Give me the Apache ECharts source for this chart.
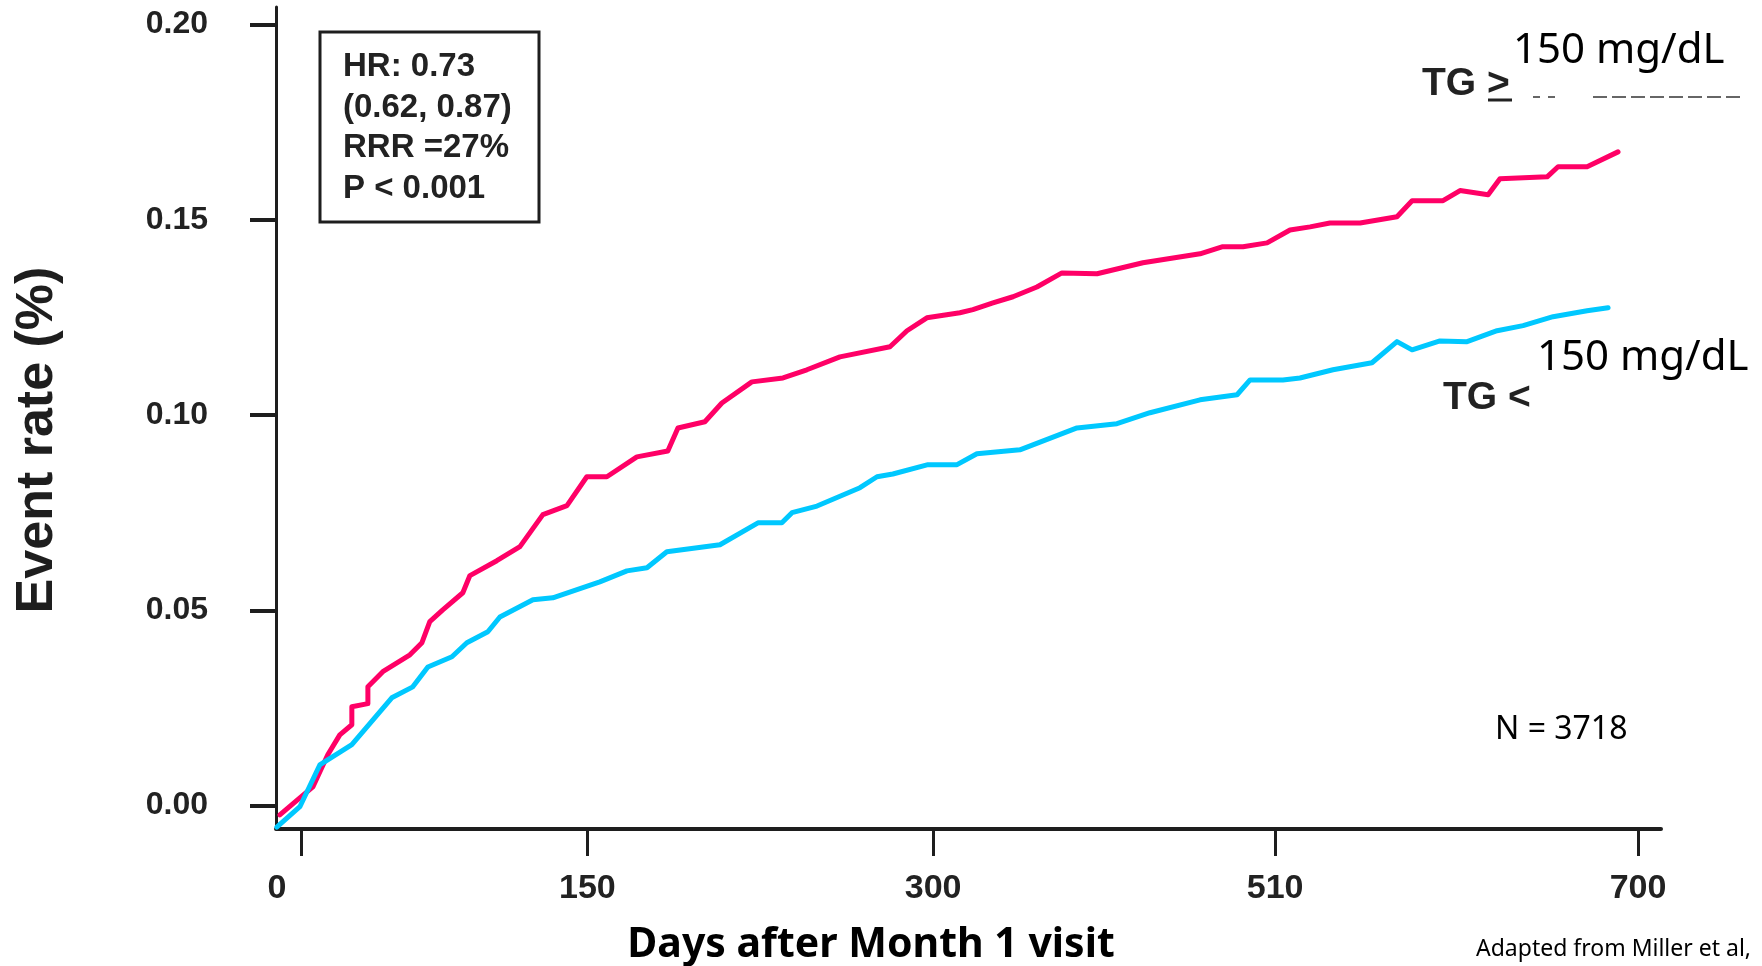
<!DOCTYPE html>
<html>
<head>
<meta charset="utf-8">
<title>Event rate by triglyceride level</title>
<script src="https://cdn.jsdelivr.net/npm/echarts@6/dist/echarts.min.js"></script>
<style>
  html, body { margin: 0; padding: 0; background: #ffffff; }
  #chart { width: 1762px; height: 966px; }
</style>
</head>
<body>
<div id="chart"></div>
<script>
// Cumulative event rate, TG >= 150 mg/dL group
const highTgDays = [-11.0, -1.6, 6.3, 14.1, 20.4, 26.7, 26.7, 35.1, 35.1, 42.9, 57.1, 63.4, 67.5, 74.3, 84.8, 88.5,
  102.6, 114.7, 126.7, 139.3, 149.7, 160.2, 175.9, 192.1, 197.4, 211.5, 220.4, 236.1, 252.4, 264.9, 282.2,
  308.4, 317.3, 327.7, 345.0, 351.8, 362.3, 372.8, 385.3, 398.4, 416.8, 440.8, 470.7, 482.2, 493.2, 505.8,
  517.8, 528.3, 538.7, 554.5, 573.8, 581.7, 597.9, 606.8, 621.5, 627.7, 652.4, 658.1, 673.3, 689.5];
const highTgRate = [-0.0024, 0.0015, 0.0048, 0.0130, 0.0181, 0.0207, 0.0253, 0.0261, 0.0304, 0.0343, 0.0386, 0.0417,
  0.0471, 0.0501, 0.0545, 0.0589, 0.0627, 0.0663, 0.0745, 0.0768, 0.0842, 0.0842, 0.0893, 0.0908, 0.0967, 0.0983,
  0.1031, 0.1085, 0.1095, 0.1116, 0.1149, 0.1175, 0.1216, 0.1249, 0.1262, 0.1270, 0.1287, 0.1303, 0.1328, 0.1364,
  0.1362, 0.1390, 0.1413, 0.1431, 0.1431, 0.1441, 0.1474, 0.1482, 0.1492, 0.1492, 0.1508, 0.1549, 0.1549, 0.1575,
  0.1564, 0.1605, 0.1610, 0.1636, 0.1636, 0.1674];

// Cumulative event rate, TG < 150 mg/dL group
const lowTgDays = [-12.6, -0.5, 9.9, 26.7, 47.6, 58.6, 66.5, 79.1, 86.9, 97.9, 104.2, 121.5, 131.9, 156.5, 170.7,
  181.2, 191.6, 219.4, 239.3, 251.8, 257.1, 270.2, 292.7, 301.6, 309.9, 328.3, 343.5, 353.9, 376.4, 406.3, 427.2,
  444.5, 470.7, 490.1, 496.9, 514.1, 523.0, 540.3, 560.7, 573.8, 581.7, 596.3, 610.5, 626.2, 639.8, 655.5, 673.3, 684.3];
const lowTgRate = [-0.0055, -0.0003, 0.0104, 0.0156, 0.0276, 0.0304, 0.0355, 0.0381, 0.0417, 0.0445, 0.0483, 0.0527,
  0.0532, 0.0573, 0.0601, 0.0609, 0.0650, 0.0668, 0.0724, 0.0724, 0.0750, 0.0767, 0.0814, 0.0842, 0.0849, 0.0873,
  0.0873, 0.0901, 0.0911, 0.0967, 0.0978, 0.1006, 0.1039, 0.1052, 0.1090, 0.1090, 0.1095, 0.1116, 0.1134, 0.1188,
  0.1167, 0.1190, 0.1188, 0.1216, 0.1229, 0.1252, 0.1267, 0.1275];

// Axis ticks: where each x tick sits, and the text printed under it
const xTickPositions = [0, 150, 331, 510, 700];
const xTickLabels = ['0', '150', '300', '510', '700'];
const yTickValues = [0, 0.05, 0.10, 0.15, 0.20];

// Annotation texts
const statLines = ['HR: 0.73', '(0.62, 0.87)', 'RRR =27%', 'P < 0.001'];
const highLabel = 'TG >';
const lowLabel = 'TG <';
const thresholdText = '150 mg/dL';
const sampleText = 'N = 3718';
const sourceText = 'Adapted from Miller et al,';
const xTitle = 'Days after Month 1 visit';
const yTitle = 'Event rate (%)';

const ARIAL = "'Liberation Sans', Arial, Helvetica, sans-serif";
const SANS = "'Noto Sans', 'Open Sans', sans-serif";
const INK = '#1e1e1e';

const zip = (xs, ys) => xs.map((x, i) => [x, ys[i]]);

const chart = echarts.init(document.getElementById('chart'), null, { renderer: 'canvas' });

chart.setOption({
  animation: false,
  backgroundColor: '#ffffff',
  grid: { left: 276, right: 101, top: 7, bottom: 137, containLabel: false, outerBoundsMode: 'none' },
  xAxis: {
    type: 'value',
    min: -13,
    max: 712,
    axisLine: { show: true, onZero: false, lineStyle: { color: INK, width: 4 } },
    axisTick: { show: true, customValues: xTickPositions, length: 27, lineStyle: { color: INK, width: 3 } },
    axisLabel: {
      customValues: xTickPositions,
      margin: 43,
      fontFamily: ARIAL,
      fontSize: 34,
      fontWeight: 'bold',
      color: '#222222',
      formatter: (v) => {
        const i = xTickPositions.indexOf(v);
        const t = i >= 0 ? xTickLabels[i] : '';
        return v === 0 ? '{z|' + t + '}' : t;
      },
      rich: {
        z: { fontFamily: ARIAL, fontSize: 34, fontWeight: 'bold', color: '#222222', padding: [0, 48, 0, 0] }
      }
    },
    splitLine: { show: false }
  },
  yAxis: {
    type: 'value',
    min: -0.006,
    max: 0.2045,
    axisLine: { show: true, onZero: false, lineStyle: { color: INK, width: 3 } },
    axisTick: { show: true, customValues: yTickValues, length: 26, lineStyle: { color: INK, width: 4 } },
    axisLabel: {
      customValues: yTickValues,
      margin: 68,
      fontFamily: ARIAL,
      fontSize: 32,
      fontWeight: 'bold',
      color: '#222222',
      formatter: (v) => v.toFixed(2)
    },
    splitLine: { show: false }
  },
  series: [
    {
      name: highLabel + ' ' + thresholdText,
      type: 'line',
      data: zip(highTgDays, highTgRate),
      showSymbol: false,
      symbol: 'none',
      lineStyle: { color: '#ff0066', width: 5, join: 'round', cap: 'round' },
      z: 2
    },
    {
      name: lowLabel + ' ' + thresholdText,
      type: 'line',
      data: zip(lowTgDays, lowTgRate),
      showSymbol: false,
      symbol: 'none',
      lineStyle: { color: '#00c8ff', width: 5, join: 'round', cap: 'round' },
      z: 3
    }
  ],
  graphic: [
    // statistics box
    {
      type: 'rect', z: 10,
      shape: { x: 320, y: 32, width: 219, height: 190 },
      style: { fill: 'none', stroke: INK, lineWidth: 3 }
    },
    {
      type: 'text', z: 11, x: 343, y: 47,
      style: {
        text: statLines.join('\n'), fill: '#222222',
        font: 'bold 33px ' + ARIAL, lineHeight: 40.5,
        align: 'left', verticalAlign: 'top'
      }
    },
    // group label, high TG
    {
      type: 'text', z: 11, x: 1422, y: 84,
      style: { text: highLabel, fill: '#222222', font: 'bold 39px ' + ARIAL, align: 'left', verticalAlign: 'middle' }
    },
    {
      type: 'line', z: 11,
      shape: { x1: 1488, y1: 100, x2: 1512, y2: 100 },
      style: { stroke: '#222222', lineWidth: 3 }
    },
    // remains of an underline peeking out below the label patch
    {
      type: 'line', z: 10,
      shape: { x1: 1533, y1: 97, x2: 1557, y2: 97 },
      style: { stroke: '#666666', lineWidth: 2, lineDash: [7, 8] }
    },
    {
      type: 'line', z: 10,
      shape: { x1: 1593, y1: 97, x2: 1744, y2: 97 },
      style: { stroke: '#666666', lineWidth: 2, lineDash: [14, 5] }
    },
    {
      type: 'rect', z: 12,
      shape: { x: 1513, y: 0, width: 232, height: 96 },
      style: { fill: '#ffffff' }
    },
    {
      type: 'text', z: 13, x: 1513, y: 51,
      style: { text: thresholdText, fill: '#000000', font: '42px ' + SANS, align: 'left', verticalAlign: 'middle' }
    },
    // group label, low TG
    {
      type: 'text', z: 11, x: 1443, y: 398,
      style: { text: lowLabel, fill: '#222222', font: 'bold 39px ' + ARIAL, align: 'left', verticalAlign: 'middle' }
    },
    {
      type: 'rect', z: 12,
      shape: { x: 1530, y: 326, width: 225, height: 62 },
      style: { fill: '#ffffff' }
    },
    {
      type: 'text', z: 13, x: 1537, y: 358,
      style: { text: thresholdText, fill: '#000000', font: '42px ' + SANS, align: 'left', verticalAlign: 'middle' }
    },
    // sample size and source
    {
      type: 'text', z: 11, x: 1495, y: 730,
      style: { text: sampleText, fill: '#000000', font: '32px ' + SANS, align: 'left', verticalAlign: 'middle' }
    },
    {
      type: 'text', z: 11, x: 1476, y: 949,
      style: { text: sourceText, fill: '#000000', font: '23px ' + SANS, align: 'left', verticalAlign: 'middle' }
    },
    // axis titles
    {
      type: 'text', z: 11, x: 871, y: 945,
      style: { text: xTitle, fill: '#000000', font: 'bold 41px ' + SANS, align: 'center', verticalAlign: 'middle' }
    },
    {
      type: 'text', z: 11, x: 38, y: 440, rotation: Math.PI / 2,
      style: { text: yTitle, fill: '#1e1e1e', font: 'bold 52px ' + ARIAL, align: 'center', verticalAlign: 'middle' }
    }
  ]
});
</script>
</body>
</html>
